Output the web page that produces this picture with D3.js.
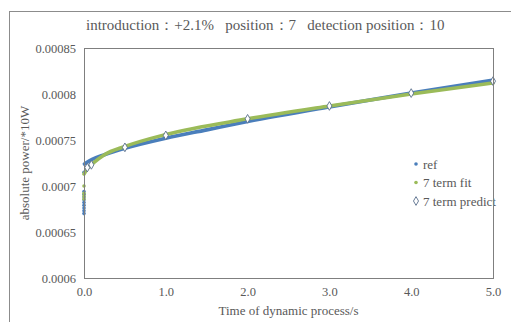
<!DOCTYPE html>
<html>
<head>
<meta charset="utf-8">
<script src="https://cdn.jsdelivr.net/npm/d3@7"></script>
<style>
  body { margin: 0; background: #fff; }
  svg text { font-family: "Liberation Serif"; fill: #595959; }
</style>
</head>
<body>
<div id="graf"></div>
<script>
// Datos
const tiempoRef = [0.005, 0.1, 0.25, 0.5, 1.0, 1.5, 2.0, 3.0, 4.0, 5.0];
const valorRef = [0.000724, 0.000729, 0.000734, 0.000741, 0.000752, 0.000761, 0.00077, 0.000786, 0.000801, 0.000815];
const tiempoFit = [0.0, 0.05, 0.1, 0.25, 0.5, 1.0, 2.0, 3.0, 4.0, 5.0];
const valorFit = [0.000713, 0.00072, 0.000724, 0.000734, 0.000743, 0.000756, 0.000773, 0.000787, 0.0008, 0.000812];
// valores en t = 0 (salto inicial)
const ref0 = [0.00067, 0.000673, 0.000676, 0.000679, 0.000682, 0.000685, 0.000688, 0.000691, 0.000694, 0.000715];
const fit0 = [0.000686, 0.000689, 0.000692, 0.0007];
const tiempoPred = [0.04, 0.09, 0.5, 1.0, 2.0, 3.0, 4.0, 5.0];
const valorPred = [0.00072, 0.000723, 0.000742, 0.000755, 0.000773, 0.000787, 0.000801, 0.000814];
const ticksY = [0.0006, 0.00065, 0.0007, 0.00075, 0.0008, 0.00085];
const ticksX = [0, 1, 2, 3, 4, 5];
const leyenda = ["ref", "7 term fit", "7 term predict"];

const azul = "#4a7ebb";
const verde = "#9bbb59";
const fuente = "Liberation Serif";

const anchoTotal = 511, altoTotal = 322;
const margins = { top: 48, right: 18, bottom: 44, left: 84 };
const ancho = anchoTotal - margins.left - margins.right;
const alto = altoTotal - margins.top - margins.bottom;

const svg = d3.select("#graf").append("svg")
  .attr("width", anchoTotal).attr("height", altoTotal)
  .attr("font-family", fuente);

// marco exterior
svg.append("rect")
  .attr("x", 9.5).attr("y", 11.5).attr("width", 520).attr("height", 330)
  .attr("fill", "none").attr("stroke", "#8c8c8c");

const g = svg.append("g").attr("transform", `translate(${margins.left}, ${margins.top})`);

const x = d3.scaleLinear().domain([0, 5]).range([0, ancho]);
const y = d3.scaleLinear().domain([0.0006, 0.00085]).range([alto, 0]);

// Ejes
const ejeY = g.append("g").call(d3.axisLeft(y).tickValues(ticksY).tickSize(0).tickPadding(8)
  .tickFormat(d => String(+d.toFixed(5))));
const ejeX = g.append("g").attr("transform", `translate(0, ${alto})`)
  .call(d3.axisBottom(x).tickValues(ticksX).tickSize(0).tickPadding(9).tickFormat(d3.format(".1f")));
[ejeY, ejeX].forEach(e => {
  e.attr("font-family", fuente).attr("font-size", 12.5);
  e.select(".domain").remove();
  e.selectAll("text").attr("fill", "#595959");
});

const linea = d3.line().x(d => x(d[0])).y(d => y(d[1])).curve(d3.curveMonotoneX);

// ref
g.append("path").datum(d3.zip(tiempoRef, valorRef))
  .attr("d", linea).attr("fill", "none").attr("stroke", azul)
  .attr("stroke-width", 3.6).attr("stroke-linecap", "round");
g.selectAll(".ref0").data(ref0).join("circle")
  .attr("cx", x(0)).attr("cy", d => y(d)).attr("r", 1.8).attr("fill", azul);

// fit
g.append("path").datum(d3.zip(tiempoFit, valorFit))
  .attr("d", linea).attr("fill", "none").attr("stroke", verde)
  .attr("stroke-width", 3.6).attr("stroke-linecap", "round");
g.selectAll(".fit0").data(fit0).join("circle")
  .attr("cx", x(0)).attr("cy", d => y(d)).attr("r", 1.8).attr("fill", verde);

// predict (rombos)
const rombo = d3.symbol().type(d3.symbolDiamond).size(22);
g.selectAll(".pred").data(d3.zip(tiempoPred, valorPred)).join("path")
  .attr("transform", d => `translate(${x(d[0])}, ${y(d[1])})`)
  .attr("d", rombo).attr("fill", "#fff").attr("stroke", "#5a6f8c").attr("stroke-width", 0.9);

// Leyenda
const ley = g.append("g").attr("transform", `translate(${416 - margins.left}, ${164 - margins.top})`);
leyenda.forEach((t, i) => {
  const fila = ley.append("g").attr("transform", `translate(0, ${i * 18.5})`);
  if (i < 2) {
    fila.append("circle").attr("r", 1.8).attr("fill", i === 0 ? azul : verde);
  } else {
    fila.append("path").attr("d", rombo).attr("fill", "#fff").attr("stroke", "#5a6f8c").attr("stroke-width", 0.9);
  }
  fila.append("text").attr("x", 7).attr("dy", "0.35em").style("font-size", "13px").text(t);
});

// marco del área de trazado
g.append("rect").attr("x", 0.5).attr("y", 0.5).attr("width", ancho).attr("height", alto)
  .attr("fill", "none").attr("stroke", "#7f7f7f");

// Títulos
svg.append("text").attr("x", 86).attr("y", 30).style("font-size", "15px")
  .attr("xml:space", "preserve")
  .text("introduction：+2.1%   position：7   detection position：10");
svg.append("text").attr("x", margins.left + ancho / 2).attr("y", 315)
  .attr("text-anchor", "middle").style("font-size", "13px").text("Time of dynamic process/s");
svg.append("text").attr("transform", `translate(29, ${margins.top + alto / 2}) rotate(-90)`)
  .attr("text-anchor", "middle").style("font-size", "13px").text("absolute power/*10W");
</script>
</body>
</html>
